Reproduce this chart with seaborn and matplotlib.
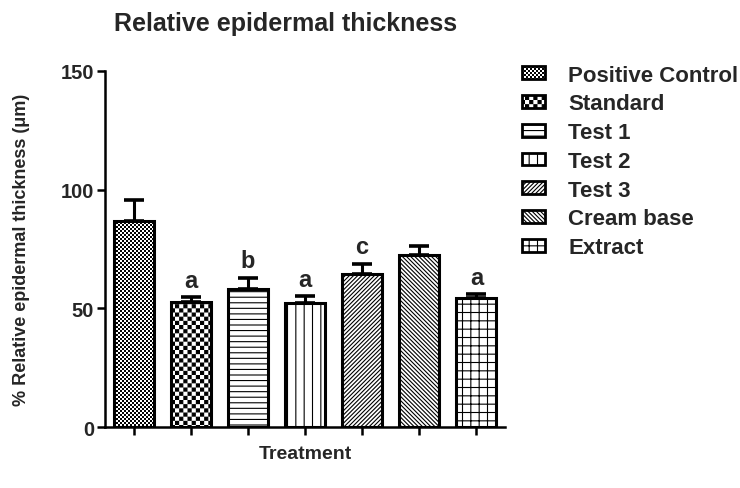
import numpy as np
import matplotlib
matplotlib.use("Agg")
import matplotlib.pyplot as plt
import matplotlib.hatch as mhatch
from matplotlib.path import Path
from matplotlib.patches import Patch
import seaborn as sns

# ---- data ----
categories = ["Positive Control", "Standard", "Test 1", "Test 2", "Test 3", "Cream base", "Extract"]
values = [86.8, 52.8, 58.1, 52.3, 64.5, 72.6, 54.2]
errors = [8.8, 1.8, 4.7, 2.8, 4.2, 3.5, 1.8]
letters = ["", "a", "b", "a", "c", "", "a"]
hatches = ["o", "O", "---", "||", "////////", "\\\\\\\\\\\\\\\\", "++"]
yticks = [0, 50, 100, 150]


# ---- custom checkerboard hatches (replace circle hatches 'o' / 'O') ----
class _Checker(mhatch.HatchPatternBase):
    char = "o"
    cells = 50

    def __init__(self, hatch, density):
        self.n = self.cells if self.char in hatch else 0
        self.num_vertices = (self.n * self.n // 2) * 5 if self.n else 0

    def set_vertices_and_codes(self, vertices, codes):
        n = self.n
        s = 1.0 / n
        h = plt.rcParams["hatch.linewidth"] / 72.0 / 2.0
        sq = []
        for i in range(n):
            for j in range(n):
                if (i + j) % 2 == 0:
                    x0, y0 = i * s + h, j * s + h
                    x1, y1 = (i + 1) * s - h, (j + 1) * s - h
                    sq.append([[x0, y0], [x1, y0], [x1, y1], [x0, y1], [x0, y0]])
        vertices[:] = np.array(sq).reshape(-1, 2)
        c = np.array([Path.MOVETO, Path.LINETO, Path.LINETO, Path.LINETO, Path.CLOSEPOLY],
                     dtype=Path.code_type)
        codes[:] = np.tile(c, len(sq))


class _FineChecker(_Checker):
    char = "o"
    cells = 50


class _CoarseChecker(_Checker):
    char = "O"
    cells = 24


mhatch._hatch_types = [mhatch.HorizontalHatch, mhatch.VerticalHatch,
                       mhatch.NorthEastHatch, mhatch.SouthEastHatch,
                       _FineChecker, _CoarseChecker]

# ---- style ----
sns.set_style("ticks")
plt.rcParams["font.family"] = ["Liberation Sans", "DejaVu Sans"]
plt.rcParams["font.weight"] = "bold"
plt.rcParams["hatch.linewidth"] = 0.8
plt.rcParams["hatch.color"] = "black"

fig = plt.figure(figsize=(7.4, 4.89), dpi=100)
ax = fig.add_axes([0.1419, 0.1247, 0.5405, 0.7281])

sns.barplot(x=categories, y=values, hue=categories, order=categories, hue_order=categories,
            palette=["white"] * len(categories), saturation=1, edgecolor="black",
            linewidth=2.2, width=0.7, legend=False, ax=ax)

xs, tops = [], []
for cont, hp in zip(ax.containers, hatches):
    for bar in cont:
        bar.set_hatch(hp)
        bar.set_edgecolor("black")
        xs.append(bar.get_x() + bar.get_width() / 2)
        tops.append(bar.get_height())

ax.errorbar(xs, tops, yerr=[np.zeros(len(errors)), errors], fmt="none", ecolor="black",
            elinewidth=2.2, capsize=7.5, capthick=2.6, zorder=1)

for x, t, e, lab in zip(xs, tops, errors, letters):
    if lab:
        ax.annotate(lab, (x, t + e), xytext=(0, 4), textcoords="offset points",
                    ha="center", va="bottom", fontsize=17, fontweight="bold")

ax.set_ylim(0, 150)
ax.set_xlim(-0.5, 6.5)
ax.set_yticks(yticks)
ax.set_yticklabels([str(v) for v in yticks], fontsize=14.5, fontweight="bold")
ax.set_xticks(xs)
ax.set_xticklabels([""] * len(xs))
ax.tick_params(axis="both", direction="out", length=5.8, width=1.8, color="black", pad=2)
for side in ["left", "bottom"]:
    ax.spines[side].set_linewidth(1.8)
    ax.spines[side].set_color("black")
sns.despine(ax=ax)

ax.set_xlabel("Treatment", fontsize=14, fontweight="bold", labelpad=5)
ax.set_ylabel("% Relative epidermal thickness (\u03bcm)", fontsize=13, fontweight="bold", labelpad=22)
fig.text(0.386, 0.9366, "Relative epidermal thickness", ha="center", va="baseline",
         fontsize=18, fontweight="bold")

handles = [Patch(facecolor="white", edgecolor="black", hatch=hp, linewidth=2.0) for hp in hatches]
fig.legend(handles, categories, loc="upper left", bbox_to_anchor=(0.7054, 0.866),
           frameon=False, prop={"size": 16, "weight": "bold"}, handlelength=1.04,
           handleheight=0.5, handletextpad=1.04, labelspacing=0.35, borderpad=0,
           borderaxespad=0)

fig.savefig("out.png", dpi=100)
